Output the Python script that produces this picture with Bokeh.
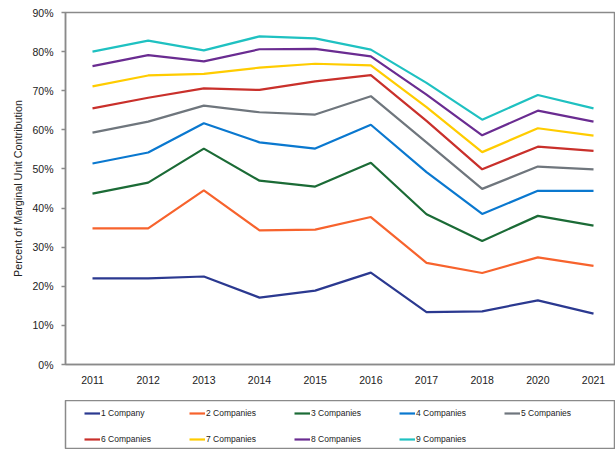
from bokeh.plotting import figure
from bokeh.models import Range1d, FixedTicker, PrintfTickFormatter, Legend, LegendItem
from bokeh.layouts import column
from bokeh.embed import file_html
from bokeh.resources import INLINE

years = ["2011", "2012", "2013", "2014", "2015", "2016", "2017", "2018", "2020", "2021"]
series_names = ["1 Company", "2 Companies", "3 Companies", "4 Companies", "5 Companies",
                "6 Companies", "7 Companies", "8 Companies", "9 Companies"]
s1 = [22.0, 22.0, 22.5, 17.1, 18.9, 23.5, 13.4, 13.6, 16.4, 13.0]
s2 = [34.8, 34.8, 44.5, 34.3, 34.5, 37.7, 26.0, 23.4, 27.4, 25.2]
s3 = [43.7, 46.5, 55.2, 47.0, 45.5, 51.6, 38.4, 31.6, 38.0, 35.5]
s4 = [51.4, 54.2, 61.7, 56.8, 55.2, 61.3, 49.2, 38.5, 44.4, 44.4]
s5 = [59.3, 62.1, 66.2, 64.5, 63.9, 68.6, 56.8, 44.9, 50.6, 49.9]
s6 = [65.5, 68.2, 70.6, 70.2, 72.4, 74.0, 62.3, 49.9, 55.7, 54.6]
s7 = [71.1, 73.9, 74.3, 75.9, 76.9, 76.5, 65.8, 54.3, 60.4, 58.5]
s8 = [76.3, 79.1, 77.5, 80.6, 80.7, 78.8, 69.0, 58.6, 64.9, 62.1]
s9 = [80.0, 82.8, 80.3, 83.9, 83.4, 80.5, 72.0, 62.6, 68.9, 65.5]
y_ticks = [0, 10, 20, 30, 40, 50, 60, 70, 80, 90]

colors = ["#2b3990", "#f7632d", "#1b6b36", "#0a78cf", "#6f767d",
          "#c9302b", "#ffcc00", "#6a2c91", "#1fc1c1"]
all_series = [s1, s2, s3, s4, s5, s6, s7, s8, s9]

FONT = "Liberation Sans"
GRAY = "#8a8a8a"
TXT = "#222222"

x_pos = list(range(len(years)))

p = figure(width=615, height=400, output_backend="svg", toolbar_location=None,
           x_range=Range1d(-0.485, 9.395), y_range=Range1d(0, 90),
           min_border_left=65, min_border_right=0, min_border_top=12, min_border_bottom=36)
p.outline_line_color = GRAY
p.outline_line_width = 1.5
p.grid.visible = False

for vals, c in zip(all_series, colors):
    p.line(x=x_pos, y=vals, line_color=c, line_width=2.2)

xa = p.xaxis[0]
xa.ticker = FixedTicker(ticks=x_pos)
xa.major_label_overrides = {i: y for i, y in zip(x_pos, years)}
xa.major_tick_in = 0
xa.major_tick_out = 0
xa.minor_tick_line_color = None
xa.axis_line_color = GRAY
xa.axis_line_width = 1.5
xa.major_label_standoff = 11
xa.major_label_text_font = FONT
xa.major_label_text_font_size = "10.5px"
xa.major_label_text_color = TXT

ya = p.yaxis[0]
ya.ticker = FixedTicker(ticks=y_ticks)
ya.formatter = PrintfTickFormatter(format="%d%%")
ya.major_tick_in = 0
ya.major_tick_out = 4
ya.major_tick_line_color = GRAY
ya.major_tick_line_width = 1.5
ya.minor_tick_line_color = None
ya.axis_line_color = GRAY
ya.axis_line_width = 1.5
ya.major_label_standoff = 8
ya.major_label_text_font = FONT
ya.major_label_text_font_size = "10.5px"
ya.major_label_text_color = TXT
ya.axis_label = "Percent of Marginal Unit Contribution"
ya.axis_label_text_font = FONT
ya.axis_label_text_font_size = "10.8px"
ya.axis_label_text_font_style = "normal"
ya.axis_label_text_color = TXT
ya.axis_label_standoff = 5

# legend panel
lf = figure(width=615, height=49, output_backend="svg", toolbar_location=None,
            x_range=Range1d(0, 1), y_range=Range1d(200, 201),
            min_border_left=65, min_border_right=0, min_border_top=0, min_border_bottom=0,
            x_axis_location=None, y_axis_location=None)
lf.grid.visible = False
lf.outline_line_color = GRAY
lf.outline_line_width = 1.5

items = []
for name, vals, c in zip(series_names, all_series, colors):
    r = lf.line(x=x_pos, y=vals, line_color=c, line_width=2.2)
    items.append(LegendItem(label=name, renderers=[r]))

legend = Legend(items=items, location=(19, 4), orientation="horizontal", ncols=5,
                margin=0, padding=0, spacing=14, glyph_width=16, glyph_height=12,
                label_height=12, label_width=74, label_standoff=1,
                border_line_color=None, background_fill_alpha=0,
                label_text_font=FONT, label_text_font_size="8.5px", label_text_color=TXT)
lf.add_layout(legend)

layout = column(p, lf, spacing=0)
open("out.html", "w").write(file_html(layout, INLINE))
